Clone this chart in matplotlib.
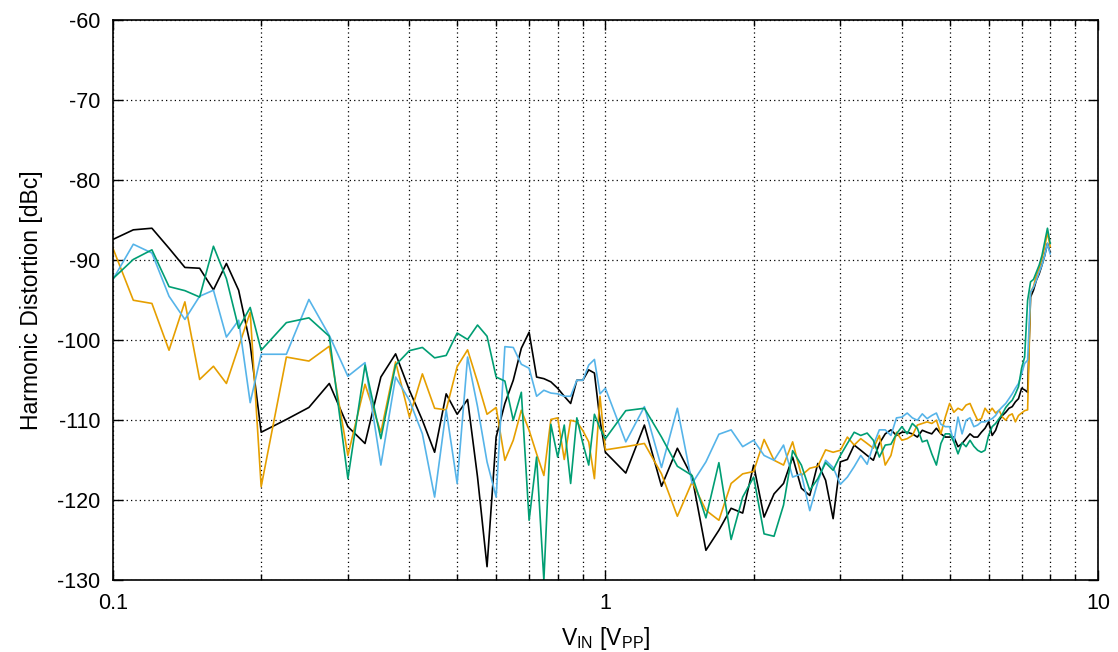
import matplotlib
matplotlib.use('agg')
import matplotlib.pyplot as plt
from matplotlib.ticker import FixedLocator, FixedFormatter, LogLocator, NullFormatter

plt.rcParams['font.family'] = ['Liberation Sans', 'DejaVu Sans']
plt.rcParams['mathtext.default'] = 'regular'
plt.rcParams['axes.unicode_minus'] = False

# input amplitude grid [Vpp]
vin = [0.10, 0.11, 0.12, 0.13, 0.14, 0.15, 0.16, 0.17, 0.18, 0.19, 0.20,
       0.225, 0.25, 0.275, 0.30, 0.325, 0.35, 0.375, 0.40, 0.425, 0.45, 0.475,
       0.50, 0.525, 0.55, 0.575, 0.60, 0.625, 0.65, 0.675, 0.70, 0.725, 0.75,
       0.775, 0.80, 0.825, 0.85, 0.875, 0.90, 0.925, 0.95, 0.975, 1.0,
       1.1, 1.2, 1.3, 1.4, 1.5, 1.6, 1.7, 1.8, 1.9, 2.0,
       2.1, 2.2, 2.3, 2.4, 2.5, 2.6, 2.7, 2.8, 2.9, 3.0,
       3.1, 3.2, 3.3, 3.4, 3.5, 3.6, 3.7, 3.8, 3.9, 4.0,
       4.1, 4.2, 4.3, 4.4, 4.5, 4.6, 4.7, 4.8, 4.9, 5.0,
       5.1, 5.2, 5.3, 5.4, 5.5, 5.6, 5.7, 5.8, 5.9, 6.0,
       6.1, 6.2, 6.3, 6.4, 6.5, 6.6, 6.7, 6.8, 6.9, 7.0,
       7.1, 7.2, 7.3, 7.4, 7.5, 7.6, 7.7, 7.8, 7.9, 8.0]

hd_black = [-87.4, -86.2, -86.0, -88.5, -90.9, -91.0, -93.7, -90.4, -93.75, -100.5, -111.5,
            -109.9, -108.4, -105.4, -110.8, -112.9, -104.6, -101.7, -106.25, -110.0, -114.0, -106.7,
            -109.25, -107.4, -117.1, -128.3, -112.1, -107.9, -105.0, -101.0, -99.0, -104.6, -104.8,
            -105.2, -106.0, -107.0, -107.9, -105.0, -105.0, -103.7, -104.1, -110.0, -114.0,
            -116.6, -110.6, -118.25, -113.5, -117.1, -126.25, -123.75, -121.0, -121.6, -115.6,
            -122.1, -119.2, -117.9, -114.6, -118.5, -119.4, -115.4, -117.5, -122.3, -115.2,
            -114.9, -113.1, -113.75, -114.4, -115.0, -112.9, -111.7, -111.2, -111.9, -111.5,
            -111.5, -111.7, -112.1, -111.25, -111.5, -111.7, -111.0, -111.7, -112.1, -112.1,
            -112.1, -113.3, -112.9, -112.3, -111.7, -112.1, -112.1, -111.5, -111.0, -110.2,
            -111.9, -111.25, -110.0, -109.4, -109.0, -108.5, -108.3, -107.7, -107.3, -106.0,
            -106.2, -106.5, -94.6, -93.75, -92.5, -91.7, -90.6, -89.4, -87.9, -89.0]

hd_orange = [-88.5, -95.0, -95.4, -101.25, -95.2, -104.9, -103.25, -105.4, -100.8, -96.5, -118.3,
             -102.1, -102.6, -100.75, -114.4, -105.5, -111.5, -102.7, -109.6, -104.2, -108.5, -108.7,
             -103.3, -101.2, -105.2, -109.25, -108.4, -115.0, -112.5, -108.75, -111.25, -114.2, -116.9,
             -109.9, -109.7, -114.9, -110.0, -110.2, -111.3, -112.7, -117.3, -107.0, -113.7,
             -113.3, -112.9, -116.7, -122.0, -117.7, -121.25, -122.5, -117.9, -116.7, -116.4,
             -112.4, -115.0, -115.6, -112.7, -116.9, -116.0, -115.75, -113.7, -114.0, -113.75,
             -112.1, -113.1, -112.3, -112.9, -113.5, -111.9, -115.6, -114.4, -111.5, -112.5,
             -112.3, -111.9, -110.6, -110.4, -110.2, -110.4, -110.0, -111.7, -109.6, -107.9,
             -109.0, -108.5, -108.75, -108.1, -107.9, -109.0, -110.0, -109.8, -108.5, -109.1,
             -108.5, -109.1, -108.75, -109.6, -110.0, -109.4, -109.2, -110.2, -109.4, -109.1,
             -108.8, -108.7, -94.0, -93.3, -91.9, -91.0, -89.8, -88.3, -86.5, -88.3]

hd_blue = [-92.4, -88.0, -89.1, -94.5, -97.4, -94.5, -93.75, -99.6, -97.5, -107.8, -101.75,
           -101.75, -94.9, -99.4, -104.5, -102.8, -115.6, -104.6, -107.5, -111.7, -119.6, -108.7,
           -117.9, -102.1, -108.3, -115.2, -119.6, -100.8, -100.9, -103.0, -103.5, -107.0, -106.25,
           -106.6, -106.7, -107.0, -107.0, -105.0, -105.0, -103.1, -102.4, -106.7, -106.0,
           -112.7, -108.3, -115.9, -108.5, -117.9, -115.2, -111.75, -111.2, -113.3, -112.5,
           -114.4, -115.0, -113.1, -117.1, -116.7, -121.3, -117.7, -115.0, -115.9, -118.0,
           -117.1, -115.8, -114.4, -115.5, -113.1, -111.2, -111.2, -111.9, -109.7, -109.6,
           -109.1, -109.7, -110.0, -109.2, -109.8, -109.4, -109.1, -110.5, -110.8, -110.8,
           -112.7, -109.6, -111.7, -110.0, -109.7, -110.8, -110.6, -110.2, -110.2, -110.0,
           -109.8, -109.4, -108.75, -108.3, -107.9, -107.3, -106.7, -106.0, -105.4, -104.2,
           -102.9, -102.5, -94.0, -93.4, -92.5, -91.5, -90.6, -89.4, -87.9, -89.2]

hd_green = [-92.3, -89.9, -88.7, -93.3, -93.8, -94.6, -88.25, -92.3, -98.5, -95.9, -101.25,
            -97.8, -97.2, -99.5, -117.3, -103.1, -112.3, -103.1, -101.3, -100.9, -102.2, -101.9,
            -99.1, -99.9, -98.1, -99.5, -104.6, -105.1, -110.0, -106.5, -122.5, -114.6, -130.0,
            -110.5, -114.6, -110.6, -117.9, -109.7, -112.9, -115.6, -109.25, -111.0, -112.3,
            -108.8, -108.5, -112.1, -115.75, -116.9, -122.2, -115.3, -124.9, -119.6, -117.1,
            -124.2, -124.5, -120.6, -113.8, -115.6, -118.75, -117.3, -115.3, -116.25, -114.4,
            -112.9, -111.5, -111.9, -111.6, -112.5, -114.6, -113.1, -113.0, -111.7, -110.8,
            -111.7, -110.4, -111.0, -112.7, -112.5, -114.2, -115.6, -112.9, -111.7, -111.7,
            -112.7, -114.2, -112.8, -113.3, -112.5, -113.25, -113.75, -114.0, -113.75, -111.9,
            -110.8, -110.4, -109.8, -109.2, -108.4, -107.9, -107.5, -106.7, -105.8, -103.5,
            -102.1, -95.0, -92.7, -92.4, -91.5, -90.6, -89.4, -87.7, -86.0, -87.9]

series = [
    (hd_black, '#000000'),
    (hd_orange, '#E69F00'),
    (hd_blue, '#56B4E9'),
    (hd_green, '#009E73'),
]

fig = plt.figure(figsize=(11.18, 6.52), dpi=100)
ax = fig.add_axes([0.101, 0.110, 0.881, 0.859])

for vals, col in series:
    ax.plot(vin, vals, color=col, linewidth=1.2)

ax.set_xscale('log')
ax.set_xlim(0.1, 10)
ax.set_ylim(-130, -60)

ax.xaxis.set_major_locator(FixedLocator([0.1, 1, 10]))
ax.xaxis.set_major_formatter(FixedFormatter(['0.1', '1', '10']))
ax.xaxis.set_minor_locator(LogLocator(base=10, subs=range(2, 10)))
ax.xaxis.set_minor_formatter(NullFormatter())
ax.set_yticks(range(-130, -59, 10))

ax.grid(True, which='both', axis='x', color='black', linestyle=(0, (1, 2.5)), linewidth=0.9)
ax.grid(True, which='major', axis='y', color='black', linestyle=(0, (1, 2.5)), linewidth=0.9)

ax.tick_params(which='major', direction='in', length=7, width=1, top=True, right=True,
               labelsize=15.5, pad=9)
ax.tick_params(which='minor', direction='in', length=4, width=1, top=True, right=True)
for sp in ax.spines.values():
    sp.set_linewidth(1.2)

ax.set_xlabel('V$_{IN}$ [V$_{PP}$]', fontsize=16.5, labelpad=8)
ax.set_ylabel('Harmonic Distortion [dBc]', fontsize=16.5, labelpad=10)

fig.savefig('out.png', dpi=100)
